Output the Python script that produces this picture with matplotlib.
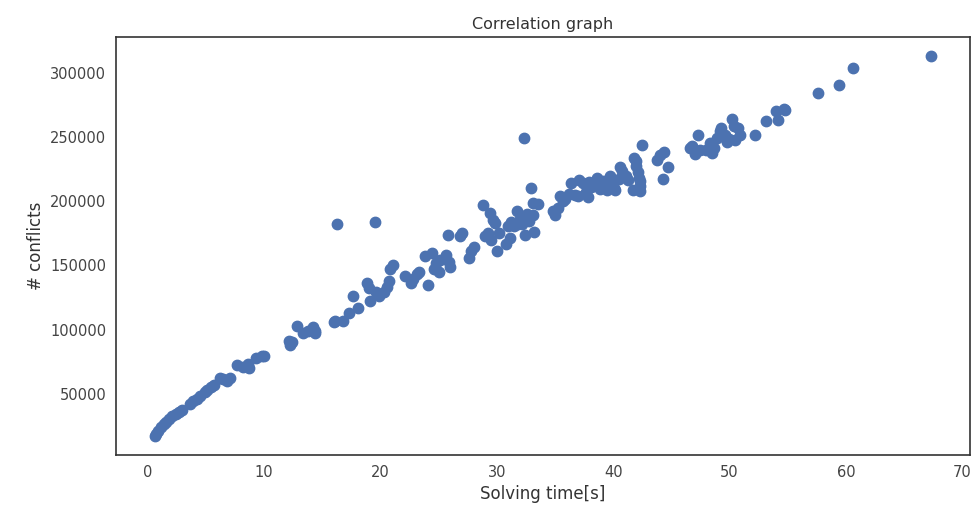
import matplotlib
matplotlib.use("Agg")
import matplotlib.pyplot as plt
import seaborn as sns

# solving time [s]
solving_time = [
    0.6, 0.7, 0.9, 1.1, 1.4, 1.6, 1.8, 2.1, 2.4, 2.7, 2.9, 3.6, 3.9, 4.2, 4.5,
    4.9, 5.1, 5.4, 5.7, 6.2, 6.5, 6.8, 7.1, 7.7, 8.2, 8.6, 8.7, 9.3, 9.8, 10.0,
    12.1, 12.2, 12.4, 12.8, 13.3, 13.8, 14.2, 14.4, 14.4, 16.0, 16.1, 16.3, 16.8,
    17.3, 17.6, 18.1, 18.8, 19.0, 19.1, 19.5, 19.6, 19.9, 20.3, 20.6, 20.7, 20.8,
    21.1, 22.1, 22.6, 22.8, 23.1, 23.3, 23.8, 24.1, 24.4, 24.6, 24.8, 25.0, 25.1,
    25.6, 25.8, 25.9, 26.0, 26.8, 27.0, 27.6, 27.8, 28.0, 28.8, 29.0, 29.2, 29.4,
    29.5, 29.7, 29.8, 30.0, 30.2, 30.8, 31.0, 31.1, 31.2, 31.5, 31.7, 31.8, 32.0,
    32.2, 32.3, 32.4, 32.6, 32.8, 32.9, 33.1, 33.1, 33.2, 33.5, 34.8, 35.0, 35.3,
    35.4, 35.7, 35.9, 36.2, 36.4, 36.7, 37.0, 37.1, 37.4, 37.7, 37.8, 37.9, 38.1,
    38.3, 38.6, 38.9, 39.1, 39.5, 39.7, 39.9, 40.1, 40.2, 40.5, 40.6, 40.8, 41.1,
    41.3, 41.7, 41.8, 42.0, 42.0, 42.1, 42.2, 42.3, 42.3, 42.3, 42.5, 43.8, 44.0,
    44.3, 44.4, 44.7, 46.6, 46.8, 47.0, 47.3, 47.5, 48.0, 48.3, 48.5, 48.7, 48.9,
    49.2, 49.3, 49.6, 49.8, 50.0, 50.2, 50.4, 50.5, 50.7, 50.9, 52.2, 53.1, 54.0,
    54.2, 54.7, 54.8, 57.6, 59.4, 60.6, 67.3,
]

# number of conflicts
conflicts = [
    17000, 18500, 21000, 24000, 26500, 28000, 30000, 33000, 34500, 36000, 37500,
    42000, 44000, 45500, 48000, 51000, 53000, 55000, 56500, 62500, 61500, 60000,
    62500, 72000, 71000, 73500, 70000, 78000, 79000, 79500,
    91000, 88000, 90000, 103000, 97000, 98500, 102000, 99000, 97000, 105500,
    107000, 182000, 107000, 112500, 126000, 117000, 136000, 132000, 122500,
    184000, 129000, 126500, 129000, 133000, 137500, 147500, 150000, 142000,
    136500, 139000, 143000, 145000, 157000, 135000, 159500, 147500, 151500,
    144500, 154500, 158000, 174000, 152500, 148500, 172500, 175000, 155500,
    161000, 164000, 197000, 172500, 175500, 190500, 169500, 185500, 183000,
    161000, 175000, 167000, 181000, 171000, 183500, 181000, 192000, 182000,
    186500, 182000, 249000, 173500, 190000, 184500, 210000, 189000, 198500,
    176000, 197500, 192000, 189000, 194500, 204000, 200000, 201500, 205500,
    214000, 204500, 204000, 216500, 214000, 207000, 203000, 215000, 211000,
    211500, 218000, 209500, 215500, 208500, 220000, 214000, 210000, 208500,
    217000, 226500, 223500, 219500, 216500, 208500, 233500, 231000, 227500,
    222500, 218000, 215500, 211500, 208000, 243500, 232000, 236000, 217000,
    238000, 227000, 241500, 243000, 236500, 251500, 240000, 240000, 245000,
    237500, 241500, 249000, 254500, 257000, 251500, 246500, 248500, 264000,
    258500, 247500, 257000, 251500, 251500, 262500, 270000, 263000, 272000,
    271000, 284500, 290500, 304000, 313000,
]

sns.set_style("white")

fig = plt.figure(figsize=(9.71, 5.09), dpi=100)
ax = fig.add_axes([0.1195, 0.106, 0.879, 0.821])
ax.scatter(solving_time, conflicts, s=56, color="#4c72b0")
ax.set_title("Correlation graph", fontsize=11.5, color="#333333")
ax.set_xlabel("Solving time[s]", fontsize=12, color="#333333")
ax.set_ylabel("# conflicts", fontsize=12, color="#333333")
ax.tick_params(labelsize=10.5, colors="#444444")
for sp in ax.spines.values():
    sp.set_color("#333333")
    sp.set_linewidth(1.2)

fig.savefig("out.png", dpi=100)
